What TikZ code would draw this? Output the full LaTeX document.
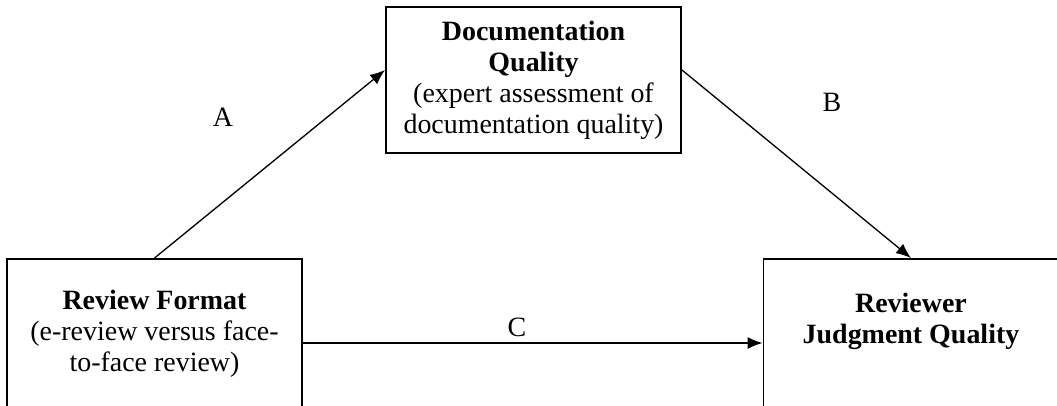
\documentclass[tikz,border=0pt]{standalone}
\usepackage{fontspec}
\setmainfont{Liberation Serif}
\usetikzlibrary{arrows.meta}

\begin{document}
\begin{tikzpicture}[
  every node/.style={font=\fontsize{15.9}{17.6}\selectfont, align=center},
  varbox/.style={draw, line width=1.1pt, minimum width=5.9cm, inner sep=0pt},
  link/.style={line width=0.75pt, -{Latex[length=3mm,width=2.4mm]}}
]
\clip (0,0) rectangle (21.14,8.1);
% the three variables
\node [varbox, minimum height=2.92cm] (quality) at (10.67,6.5) {\textbf{Documentation}\\\textbf{Quality}\\(expert assessment of\\documentation quality)};
\node [varbox, minimum height=3cm] (format) at (3.09,1.42) {\textbf{Review Format}\\(e-review versus face-\\to-face review)};
\node [varbox, minimum height=3cm] (judgment) at (18.22,1.42) {};
\node (judgtext) at (18.22,1.68) {\textbf{Reviewer}\\\textbf{Judgment Quality}};
% paths
\draw [link] (format.north) -- ([yshift=0.2cm]quality.west);
\draw [link] ([yshift=0.2cm]quality.east) -- (judgment.north);
\draw [link] ([yshift=-0.18cm]format.east) -- ([yshift=-0.18cm]judgment.west);
\node (labA) at (4.46,5.76) {A};
\node (labB) at (16.64,6.06) {B};
\node (labC) at (10.34,1.56) {C};

\end{tikzpicture}
\end{document}
